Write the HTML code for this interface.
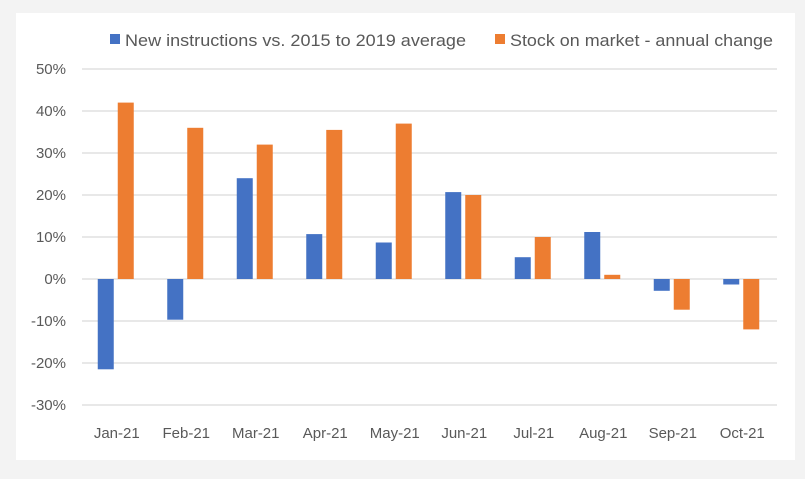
<!DOCTYPE html>
<html><head><meta charset="utf-8"><style>
body{margin:0;background:#f3f3f3;width:805px;height:479px;overflow:hidden}
svg{display:block}
text{font-family:"Liberation Sans",sans-serif;fill:#595959}
</style></head><body>
<svg width="805" height="479" xmlns="http://www.w3.org/2000/svg">
<rect x="16" y="13" width="779" height="447" fill="#fff"/>
<g stroke="#d9d9d9" stroke-width="1.3">
<line x1="82" x2="777" y1="69" y2="69"/><line x1="82" x2="777" y1="111" y2="111"/>
<line x1="82" x2="777" y1="153" y2="153"/><line x1="82" x2="777" y1="195" y2="195"/>
<line x1="82" x2="777" y1="237" y2="237"/><line x1="82" x2="777" y1="279" y2="279"/>
<line x1="82" x2="777" y1="321" y2="321"/><line x1="82" x2="777" y1="363" y2="363"/>
<line x1="82" x2="777" y1="405" y2="405"/>
</g>
<g font-size="15" text-anchor="end">
<text x="66" y="74">50%</text><text x="66" y="116">40%</text><text x="66" y="158">30%</text>
<text x="66" y="200">20%</text><text x="66" y="242">10%</text><text x="66" y="284">0%</text>
<text x="66" y="326">-10%</text><text x="66" y="368">-20%</text><text x="66" y="410">-30%</text>
</g>
<g fill="#4472c4">
<rect x="97.75" y="279" width="16" height="90.3"/>
<rect x="167.25" y="279" width="16" height="40.7"/>
<rect x="236.75" y="178.2" width="16" height="100.8"/>
<rect x="306.25" y="234.1" width="16" height="44.9"/>
<rect x="375.75" y="242.5" width="16" height="36.5"/>
<rect x="445.25" y="192.1" width="16" height="86.9"/>
<rect x="514.75" y="257.2" width="16" height="21.8"/>
<rect x="584.25" y="232" width="16" height="47"/>
<rect x="653.75" y="279" width="16" height="11.8"/>
<rect x="723.25" y="279" width="16" height="5.5"/>
</g>
<g fill="#ed7d31">
<rect x="117.75" y="102.6" width="16" height="176.4"/>
<rect x="187.25" y="127.8" width="16" height="151.2"/>
<rect x="256.75" y="144.6" width="16" height="134.4"/>
<rect x="326.25" y="129.9" width="16" height="149.1"/>
<rect x="395.75" y="123.6" width="16" height="155.4"/>
<rect x="465.25" y="195" width="16" height="84"/>
<rect x="534.75" y="237" width="16" height="42"/>
<rect x="604.25" y="274.8" width="16" height="4.2"/>
<rect x="673.75" y="279" width="16" height="30.7"/>
<rect x="743.25" y="279" width="16" height="50.4"/>
</g>
<g font-size="15" text-anchor="middle">
<text x="116.75" y="438">Jan-21</text><text x="186.25" y="438">Feb-21</text>
<text x="255.75" y="438">Mar-21</text><text x="325.25" y="438">Apr-21</text>
<text x="394.75" y="438">May-21</text><text x="464.25" y="438">Jun-21</text>
<text x="533.75" y="438">Jul-21</text><text x="603.25" y="438">Aug-21</text>
<text x="672.75" y="438">Sep-21</text><text x="742.25" y="438">Oct-21</text>
</g>
<rect x="110" y="34" width="10" height="10" fill="#4472c4"/>
<text x="125" y="46" font-size="16.5" textLength="341" lengthAdjust="spacingAndGlyphs">New instructions vs. 2015 to 2019 average</text>
<rect x="495" y="34" width="10" height="10" fill="#ed7d31"/>
<text x="510" y="46" font-size="16.5" textLength="263" lengthAdjust="spacingAndGlyphs">Stock on market - annual change</text>
</svg>
</body></html>
